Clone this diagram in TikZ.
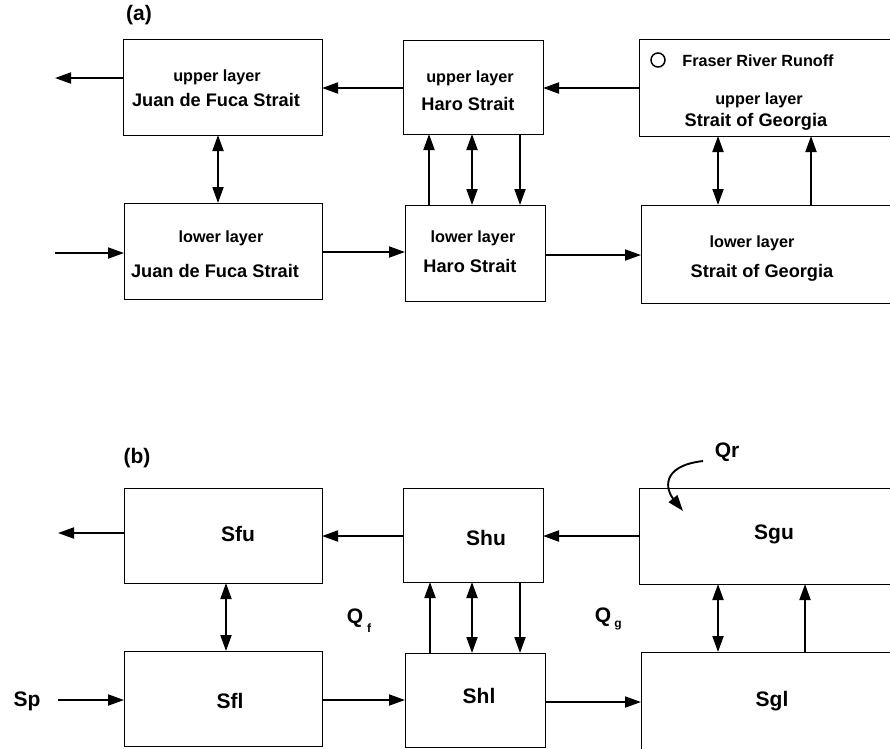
\documentclass[tikz,border=0pt]{standalone}
\usepackage{fontspec}
\setmainfont{Liberation Sans}
\usetikzlibrary{arrows.meta}
\begin{document}
\begin{tikzpicture}[x=1pt,y=-1pt,
 box/.style={draw, line width=0.9pt, inner sep=0pt, outer sep=0pt},
 arr/.style={line width=1.9pt, -{Triangle[length=16pt,width=11pt]}},
 darr/.style={line width=1.9pt, {Triangle[length=16pt,width=11pt]}-{Triangle[length=16pt,width=11pt]}},
 sm/.style={font=\fontsize{16.2}{18}\selectfont\bfseries, inner sep=0pt},
 bg/.style={font=\fontsize{18.2}{20}\selectfont\bfseries, inner sep=0pt},
 lab/.style={font=\fontsize{21}{24}\selectfont\bfseries, inner sep=0pt},
 sub/.style={font=\fontsize{12}{14}\selectfont\bfseries, inner sep=0pt},
]
\clip (0,0) rectangle (890,748);
% ---------------- panel (a) ----------------
\node[lab] (la) at (139,15) {(a)};
\node[box, minimum width=199pt, minimum height=96pt] (ju) at (222.5,87) {};
\node[box, minimum width=198pt, minimum height=96pt] (jl) at (223,251) {};
\node[box, minimum width=140pt, minimum height=94pt] (hu) at (473,87) {};
\node[box, minimum width=140pt, minimum height=96pt] (hl) at (475,253) {};
\node[box, minimum width=261pt, minimum height=97pt] (gu) at (769.5,87.5) {};
\node[box, minimum width=259pt, minimum height=98pt] (gl) at (770.5,254) {};

\node[sm] (ju1) at (217,77) {upper layer};
\node[bg] (ju2) at (216,100) {Juan de Fuca Strait};
\node[sm] (jl1) at (221,238) {lower layer};
\node[bg] (jl2) at (215,271) {Juan de Fuca Strait};
\node[sm] (hu1) at (470,78) {upper layer};
\node[bg] (hu2) at (468,104) {Haro Strait};
\node[sm] (hl1) at (473,238) {lower layer};
\node[bg] (hl2) at (470,266) {Haro Strait};
\node[draw, circle, line width=1.5pt, minimum size=14pt, inner sep=0pt] (frc) at (658,60) {};
\node[sm] (fr) at (758,61) {Fraser River Runoff};
\node[sm] (gu1) at (759,100) {upper layer};
\node[bg] (gu2) at (756,122) {Strait of Georgia};
\node[sm] (gl1) at (752,243) {lower layer};
\node[bg] (gl2) at (762,273) {Strait of Georgia};

\coordinate (aout) at (55,78);
\coordinate (ain) at (55,253);
\coordinate (ya1) at (0,88);
\coordinate (ya2) at (0,252);
\coordinate (ya3) at (0,255);
\coordinate (xa1) at (218,0);
\coordinate (xa2) at (429,0);
\coordinate (xa3) at (472,0);
\coordinate (xa4) at (520,0);
\coordinate (xa5) at (718,0);
\coordinate (xa6) at (811,0);

\draw[arr] (aout -| ju.west) -- (aout);
\draw[arr] (ya1 -| hu.west) -- (ya1 -| ju.east);
\draw[arr] (ya1 -| gu.west) -- (ya1 -| hu.east);
\draw[darr] (xa1 |- ju.south) -- (xa1 |- jl.north);
\draw[arr] (ain) -- (ain -| jl.west);
\draw[arr] (ya2 -| jl.east) -- (ya2 -| hl.west);
\draw[arr] (ya3 -| hl.east) -- (ya3 -| gl.west);
\draw[arr] (xa2 |- hl.north) -- (xa2 |- hu.south);
\draw[darr] (xa3 |- hu.south) -- (xa3 |- hl.north);
\draw[arr] (xa4 |- hu.south) -- (xa4 |- hl.north);
\draw[darr] (xa5 |- gu.south) -- (xa5 |- gl.north);
\draw[arr] (xa6 |- gl.north) -- (xa6 |- gu.south);

% ---------------- panel (b) ----------------
\node[lab] (lb) at (137,458) {(b)};
\node[box, minimum width=198pt, minimum height=95pt] (fu) at (223,535.5) {};
\node[box, minimum width=198pt, minimum height=95pt] (fl) at (223,698.5) {};
\node[box, minimum width=140pt, minimum height=94pt] (shu) at (473,535) {};
\node[box, minimum width=140pt, minimum height=94pt] (shl) at (475,700) {};
\node[box, minimum width=261pt, minimum height=96pt] (sgu) at (769.5,536) {};
\node[box, minimum width=259pt, minimum height=108pt] (sgl) at (770.5,706) {};

\node[lab] (tfu) at (238,534) {Sfu};
\node[lab] (tfl) at (230,701) {Sfl};
\node[lab] (thu) at (486,538) {Shu};
\node[lab] (thl) at (479,696) {Shl};
\node[lab] (tgu) at (774,534) {Sgu};
\node[lab] (tgl) at (772,701) {Sgl};
\node[lab] (sp) at (27,701) {Sp};
\node[lab] (qr) at (727,452) {Qr};
\node[lab] (qf) at (355,618) {Q};
\node[sub] (qfs) at (369,628) {f};
\node[lab] (qg) at (603,617) {Q};
\node[sub] (qgs) at (618,626) {g};

\coordinate (bout) at (58,533);
\coordinate (bin) at (58,700);
\coordinate (yb1) at (0,536);
\coordinate (yb2) at (0,700);
\coordinate (yb3) at (0,702);
\coordinate (xb1) at (226,0);
\coordinate (xb2) at (430,0);
\coordinate (xb3) at (472,0);
\coordinate (xb4) at (520,0);
\coordinate (xb5) at (718,0);
\coordinate (xb6) at (805,0);
\coordinate (qrs) at (703,461);
\coordinate (qre) at (683,511);

\draw[arr] (bout -| fu.west) -- (bout);
\draw[arr] (yb1 -| shu.west) -- (yb1 -| fu.east);
\draw[arr] (yb1 -| sgu.west) -- (yb1 -| shu.east);
\draw[darr] (xb1 |- fu.south) -- (xb1 |- fl.north);
\draw[arr] (bin) -- (bin -| fl.west);
\draw[arr] (yb2 -| fl.east) -- (yb2 -| shl.west);
\draw[arr] (yb3 -| shl.east) -- (yb3 -| sgl.west);
\draw[arr] (xb2 |- shl.north) -- (xb2 |- shu.south);
\draw[darr] (xb3 |- shu.south) -- (xb3 |- shl.north);
\draw[arr] (xb4 |- shu.south) -- (xb4 |- shl.north);
\draw[darr] (xb5 |- sgu.south) -- (xb5 |- sgl.north);
\draw[arr] (xb6 |- sgl.north) -- (xb6 |- sgu.south);
\draw[arr] (qrs) .. controls (660,466) and (666,490) .. (qre);
\end{tikzpicture}
\end{document}
